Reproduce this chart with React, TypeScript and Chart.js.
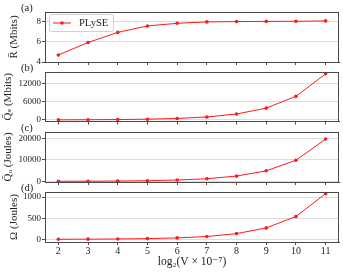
import React, { useEffect, useRef } from "react";
import { Chart, registerables } from "chart.js";
Chart.register(...registerables);

const xValues = [2, 3, 4, 5, 6, 7, 8, 9, 10, 11];
const rateMbits = [4.7, 5.93, 6.93, 7.57, 7.83, 7.97, 8.0, 8.02, 8.03, 8.07];
const qsMbits = [30, 60, 120, 240, 490, 975, 1950, 3900, 7780, 15200];
const quJoules = [38, 77, 150, 305, 610, 1220, 2450, 4900, 9800, 19650];
const omegaJoules = [2, 4, 8, 17, 34, 67, 135, 270, 540, 1080];

const ticksA = [4, 6, 8];
const ticksB = [0, 6000, 12000];
const ticksC = [0, 10000, 20000];
const ticksD = [0, 500, 1000];
const xTicks = [2, 3, 4, 5, 6, 7, 8, 9, 10, 11];

const seriesLabel = "PLySE";
const panelLabels = ["(a)", "(b)", "(c)", "(d)"];
const yTitles = ["R\u0304 (Mbits)", "Q\u0304\u209B (Mbits)", "Q\u0304\u1D64 (Joules)", "\u03A9 (Joules)"];
const xTitle = "log\u2082(V \u00D7 10\u207B\u2077)";

const FONT = "'Liberation Serif', 'DejaVu Serif', serif";
const RED = "#ff1a1a";
const FRAME = "#4a4a4a";

type Panel = {
  data: number[];
  ticks: number[];
  min: number;
  max: number;
  top: number;
  bottom: number;
  titlePad: number;
  last: boolean;
  legend: boolean;
};

const panels: Panel[] = [
  { data: rateMbits, ticks: ticksA, min: 4, max: 8.95, top: 12, bottom: 62, titlePad: 7.5, last: false, legend: true },
  { data: qsMbits, ticks: ticksB, min: -520, max: 15800, top: 72, bottom: 121.5, titlePad: 2, last: false, legend: false },
  { data: quJoules, ticks: ticksC, min: -300, max: 22930, top: 132, bottom: 182, titlePad: 1.5, last: false, legend: false },
  { data: omegaJoules, ticks: ticksD, min: -63, max: 1119, top: 192, bottom: 242, titlePad: 7.5, last: true, legend: false },
];

const W = 343;
const H = 272;

function makeChart(canvas: HTMLCanvasElement, p: Panel, idx: number) {
  const xh = p.last ? 30 : 4;
  const overlay = {
    id: "overlay" + idx,
    afterDraw(chart: any) {
      const { ctx, chartArea } = chart;
      const { left, top, right, bottom } = chartArea;
      ctx.save();
      ctx.strokeStyle = FRAME;
      ctx.lineWidth = 1;
      ctx.beginPath();
      ctx.moveTo(Math.round(left), Math.round(top) + 0.5);
      ctx.lineTo(Math.round(right), Math.round(top) + 0.5);
      ctx.moveTo(Math.round(right) - 0.5, Math.round(top));
      ctx.lineTo(Math.round(right) - 0.5, Math.round(bottom));
      ctx.stroke();
      ctx.fillStyle = "#222";
      ctx.font = "10.5px " + FONT;
      ctx.textAlign = "left";
      ctx.textBaseline = "middle";
      ctx.fillText(panelLabels[idx], 21, top - 3.5);
      if (p.legend) {
        const bx = 49.5, by = 14.5, bw = 64, bh = 17;
        ctx.beginPath();
        const r = 2;
        ctx.moveTo(bx + r, by);
        ctx.lineTo(bx + bw - r, by);
        ctx.arcTo(bx + bw, by, bx + bw, by + r, r);
        ctx.lineTo(bx + bw, by + bh - r);
        ctx.arcTo(bx + bw, by + bh, bx + bw - r, by + bh, r);
        ctx.lineTo(bx + r, by + bh);
        ctx.arcTo(bx, by + bh, bx, by + bh - r, r);
        ctx.lineTo(bx, by + r);
        ctx.arcTo(bx, by, bx + r, by, r);
        ctx.closePath();
        ctx.fillStyle = "rgba(255,255,255,0.85)";
        ctx.fill();
        ctx.strokeStyle = "#d0d0d0";
        ctx.stroke();
        const ly = by + bh / 2;
        ctx.strokeStyle = RED;
        ctx.beginPath();
        ctx.moveTo(53, ly);
        ctx.lineTo(71, ly);
        ctx.stroke();
        ctx.fillStyle = RED;
        ctx.beginPath();
        ctx.arc(62, ly, 1.8, 0, Math.PI * 2);
        ctx.fill();
        ctx.fillStyle = "#222";
        ctx.font = "10.5px " + FONT;
        ctx.fillText(seriesLabel, 79, ly);
      }
      ctx.restore();
    },
  };

  return new Chart(canvas, {
    type: "line",
    data: {
      datasets: [
        {
          label: seriesLabel,
          data: xValues.map((x, i) => ({ x, y: p.data[i] })),
          borderColor: RED,
          backgroundColor: RED,
          borderWidth: 1,
          pointRadius: 1.8,
          pointStyle: "circle",
          pointBorderWidth: 0,
          tension: 0,
        },
      ],
    },
    options: {
      responsive: false,
      animation: false,
      devicePixelRatio: 1,
      layout: { padding: { left: 0, right: 4, top: p.top, bottom: H - p.bottom - xh } },
      plugins: { legend: { display: false }, tooltip: { enabled: false }, title: { display: false } },
      scales: {
        x: {
          type: "linear",
          min: 1.55,
          max: 11.45,
          afterBuildTicks: (s: any) => {
            s.ticks = xTicks.map((v) => ({ value: v }));
          },
          afterFit: (s: any) => {
            s.height = xh;
          },
          grid: { display: true, drawOnChartArea: false, drawTicks: true, tickLength: 3, tickColor: FRAME },
          border: { display: true, color: FRAME, width: 1 },
          ticks: {
            display: p.last,
            color: "#222",
            font: { family: FONT, size: 10 },
            padding: 0,
            maxRotation: 0,
            autoSkip: false,
            callback: (v: any) => String(v),
          },
          title: {
            display: p.last,
            text: xTitle,
            color: "#222",
            font: { family: FONT, size: 11.5 },
            padding: { top: 0, bottom: 3 },
          },
        },
        y: {
          type: "linear",
          min: p.min,
          max: p.max,
          afterBuildTicks: (s: any) => {
            s.ticks = p.ticks.map((v) => ({ value: v }));
          },
          afterFit: (s: any) => {
            s.width = 45;
          },
          grid: { color: "#dcdcdc", lineWidth: 1, drawTicks: true, tickLength: 3, tickColor: FRAME },
          border: { display: true, color: FRAME, width: 1 },
          ticks: {
            color: "#222",
            font: { family: FONT, size: 9 },
            padding: 1,
            autoSkip: false,
            callback: (v: any) => String(v),
          },
          title: {
            display: true,
            text: yTitles[idx],
            color: "#222",
            font: { family: FONT, size: 11 },
            padding: { top: p.titlePad, bottom: 0 },
          },
        },
      },
    },
    plugins: [overlay],
  } as any);
}

export default function App() {
  const refs = [useRef<HTMLCanvasElement>(null), useRef<HTMLCanvasElement>(null), useRef<HTMLCanvasElement>(null), useRef<HTMLCanvasElement>(null)];
  useEffect(() => {
    const charts = panels.map((p, i) => makeChart(refs[i].current as HTMLCanvasElement, p, i));
    return () => charts.forEach((c) => c.destroy());
  }, []);
  return (
    <div style={{ position: "fixed", left: 0, top: 0, width: W, height: H, background: "#fff" }}>
      {panels.map((_, i) => (
        <canvas
          key={i}
          ref={refs[i]}
          width={W}
          height={H}
          style={{ position: "absolute", left: 0, top: 0, width: W, height: H }}
        />
      ))}
    </div>
  );
}
